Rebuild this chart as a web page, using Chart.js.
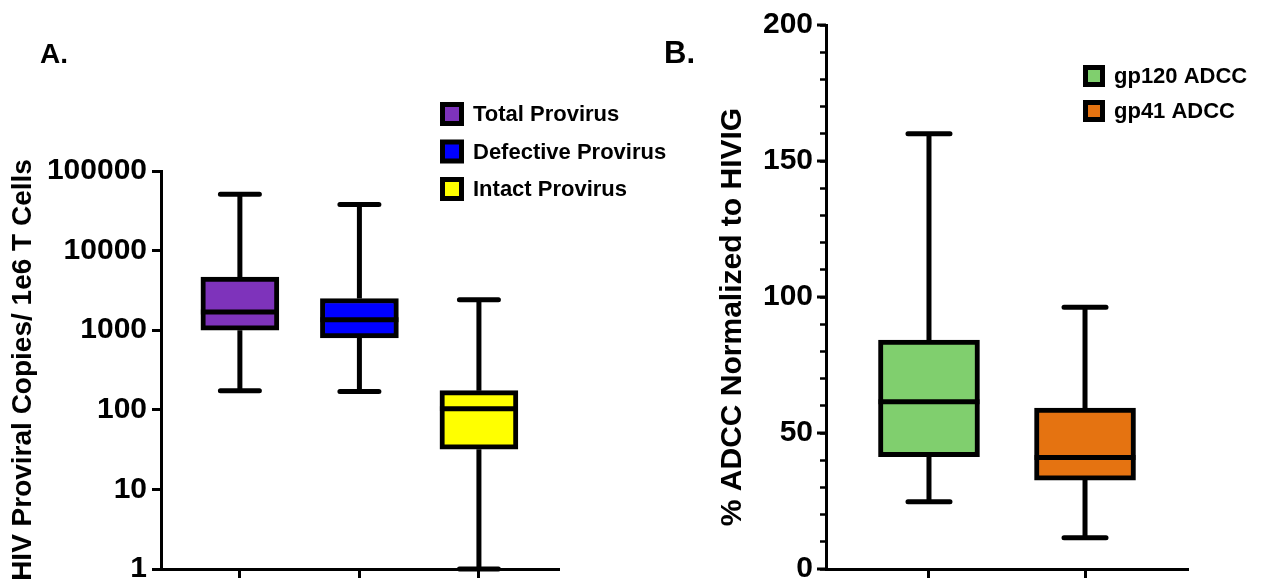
<!DOCTYPE html>
<html>
<head>
<meta charset="utf-8">
<script src="https://cdn.jsdelivr.net/npm/chart.js@4.4.1/dist/chart.umd.min.js"></script>
<style>
  body { margin: 0; background: #fff; }
  #wrap { position: relative; width: 1268px; height: 579px; }
  canvas { position: absolute; top: 0; }
</style>
</head>
<body>
<div id="wrap">
  <canvas id="chartA" width="720" height="579" style="left:0"></canvas>
  <canvas id="chartB" width="628" height="579" style="left:640px"></canvas>
</div>
<script>
// panel A - proviral copies, log axis
const provirusGroups = ["Total Provirus", "Defective Provirus", "Intact Provirus"];
const provirusColors = ["#7e33bb", "#0000ff", "#ffff00"];
const provirusMin = [174, 170, 1];
const provirusQ1 = [1000, 800, 32];
const provirusMedian = [1690, 1350, 103];
const provirusQ3 = [4650, 2500, 174];
const provirusMax = [51000, 38000, 2420];
const provirusTicks = [1, 10, 100, 1000, 10000, 100000];

// panel B - ADCC
const adccGroups = ["gp120 ADCC", "gp41 ADCC"];
const adccColors = ["#80cf6e", "#e57311"];
const adccMin = [24.7, 11.5];
const adccQ1 = [41.3, 32.7];
const adccMedian = [61.5, 41];
const adccQ3 = [84.2, 59.2];
const adccMax = [160, 96.2];
const adccMajorTicks = [0, 50, 100, 150, 200];
const adccTitle = "% ADCC Normalized to HIVIG";

const FONT = "'Liberation Sans', Arial, sans-serif";
Chart.defaults.font.family = FONT;
Chart.defaults.font.weight = "bold";
Chart.defaults.color = "#000";

function boxDatasets(groups, colors, q1, q3) {
  return groups.map((g, i) => ({
    label: g,
    data: [{ x: i, y: [q1[i], q3[i]] }],
    backgroundColor: colors[i],
    borderColor: "#000",
    borderWidth: 5,
    borderSkipped: false
  }));
}

// whiskers, caps and median lines on top of the floating bars
function whiskerPlugin(name, lo, q1, med, q3, hi, capW) {
  return {
    id: "whiskers" + name,
    afterDatasetsDraw(chart) {
      const { ctx, scales: { x, y } } = chart;
      ctx.save();
      ctx.strokeStyle = "#000";
      ctx.lineWidth = 5;
      med.forEach((m, i) => {
        const cx = x.getPixelForValue(i);
        const bar = chart.getDatasetMeta(i).data[0];
        const half = bar.width / 2;
        ctx.lineCap = "butt";
        ctx.beginPath();
        ctx.moveTo(cx, y.getPixelForValue(q3[i]));
        ctx.lineTo(cx, y.getPixelForValue(hi[i]));
        ctx.moveTo(cx, y.getPixelForValue(q1[i]));
        ctx.lineTo(cx, y.getPixelForValue(lo[i]));
        ctx.moveTo(cx - half, y.getPixelForValue(m));
        ctx.lineTo(cx + half, y.getPixelForValue(m));
        ctx.stroke();
        ctx.lineCap = "round";
        ctx.beginPath();
        const c = capW / 2 - 2.5;
        [hi[i], lo[i]].forEach(v => {
          const py = y.getPixelForValue(v);
          ctx.moveTo(cx - c, py);
          ctx.lineTo(cx + c, py);
        });
        ctx.stroke();
      });
      ctx.restore();
    }
  };
}

function legendPlugin(name, groups, colors, left, rows, box, fontSize) {
  return {
    id: "legendBox" + name,
    afterDraw(chart) {
      const ctx = chart.ctx;
      ctx.save();
      ctx.font = "bold " + fontSize + "px " + FONT;
      ctx.textBaseline = "middle";
      groups.forEach((g, i) => {
        const cy = rows[i];
        ctx.fillStyle = "#000";
        ctx.fillRect(left, cy - box / 2, box, box);
        ctx.fillStyle = colors[i];
        ctx.fillRect(left + 5, cy - box / 2 + 5, box - 10, box - 10);
        ctx.fillStyle = "#000";
        ctx.fillText(g, left + box + 9, cy + 1);
      });
      ctx.restore();
    }
  };
}

function panelLabel(name, text, px, py, size) {
  return {
    id: "panel" + name,
    afterDraw(chart) {
      const ctx = chart.ctx;
      ctx.save();
      ctx.font = "bold " + size + "px " + FONT;
      ctx.fillStyle = "#000";
      ctx.textBaseline = "alphabetic";
      ctx.fillText(text, px, py);
      ctx.restore();
    }
  };
}

// y labels must not push the chart area in
function noLabelPad(s, w) {
  s.width = w;
  s.paddingTop = 0;
  s.paddingBottom = 0;
}

const axisGrid = { drawOnChartArea: false, tickLength: 9, tickWidth: 3, tickColor: "#000", offset: false };
const axisBorder = { color: "#000", width: 3 };

new Chart(document.getElementById("chartA"), {
  type: "bar",
  data: { datasets: boxDatasets(provirusGroups, provirusColors, provirusQ1, provirusQ3) },
  options: {
    responsive: false,
    animation: false,
    layout: { padding: { top: 171, right: 161, left: 0, bottom: 0 } },
    datasets: { bar: { grouped: false, barThickness: 78 } },
    plugins: { legend: { display: false }, tooltip: { enabled: false } },
    scales: {
      x: {
        type: "linear", min: -0.66, max: 2.67, offset: false,
        afterBuildTicks: s => { s.ticks = provirusGroups.map((_, i) => ({ value: i })); },
        afterFit: s => { s.height = 10; },
        ticks: { display: false },
        grid: axisGrid,
        border: axisBorder
      },
      y: {
        type: "logarithmic", min: 1, max: 100000,
        afterBuildTicks: s => { s.ticks = provirusTicks.map(v => ({ value: v })); },
        afterFit: s => noLabelPad(s, 161),
        ticks: { autoSkip: false, padding: 5, font: { size: 30, weight: "bold" }, callback: v => String(v) },
        grid: axisGrid,
        border: axisBorder,
        title: {
          display: true,
          text: "HIV Proviral Copies/ 1e6 T Cells",
          font: { size: 28, weight: "bold" },
          padding: { top: 6 }
        }
      }
    }
  },
  plugins: [
    whiskerPlugin("A", provirusMin, provirusQ1, provirusMedian, provirusQ3, provirusMax, 44),
    legendPlugin("A", provirusGroups, provirusColors, 440, [114, 151.5, 189], 24, 22),
    panelLabel("A", "A.", 40, 63, 28)
  ]
});

const extrasB = {
  id: "extrasB",
  afterDraw(chart) {
    const { ctx, scales: { y } } = chart;
    const ax = chart.chartArea.left;
    ctx.save();
    // longer ticks at the labelled values
    ctx.strokeStyle = "#000";
    ctx.lineWidth = 3;
    ctx.beginPath();
    adccMajorTicks.forEach(v => {
      const py = y.getPixelForValue(v);
      ctx.moveTo(ax - 9, py);
      ctx.lineTo(ax, py);
    });
    ctx.stroke();
    // axis title, sits a bit below the axis middle in the original
    ctx.translate(93, 317);
    ctx.rotate(-Math.PI / 2);
    ctx.font = "bold 30px " + FONT;
    ctx.fillStyle = "#000";
    ctx.textAlign = "center";
    ctx.textBaseline = "middle";
    ctx.fillText(adccTitle, 0, 0);
    ctx.restore();
  }
};

new Chart(document.getElementById("chartB"), {
  type: "bar",
  data: { datasets: boxDatasets(adccGroups, adccColors, adccQ1, adccQ3) },
  options: {
    responsive: false,
    animation: false,
    layout: { padding: { top: 25, right: 80, left: 0, bottom: 0 } },
    datasets: { bar: { grouped: false, barThickness: 101 } },
    plugins: { legend: { display: false }, tooltip: { enabled: false } },
    scales: {
      x: {
        type: "linear", min: -0.66, max: 1.66, offset: false,
        afterBuildTicks: s => { s.ticks = adccGroups.map((_, i) => ({ value: i })); },
        afterFit: s => { s.height = 10; },
        ticks: { display: false },
        grid: axisGrid,
        border: axisBorder
      },
      y: {
        min: 0, max: 200,
        afterFit: s => noLabelPad(s, 186),
        ticks: {
          stepSize: 10, autoSkip: false, padding: 7,
          font: { size: 30, weight: "bold" },
          callback: v => (v % 50 === 0 ? String(v) : "")
        },
        grid: { drawOnChartArea: false, tickLength: 6, tickWidth: 2.5, tickColor: "#000" },
        border: axisBorder
      }
    }
  },
  plugins: [
    whiskerPlugin("B", adccMin, adccQ1, adccMedian, adccQ3, adccMax, 47),
    extrasB,
    legendPlugin("B", adccGroups, adccColors, 443, [76, 111], 22, 22),
    panelLabel("B", "B.", 24, 63, 31)
  ]
});
</script>
</body>
</html>
